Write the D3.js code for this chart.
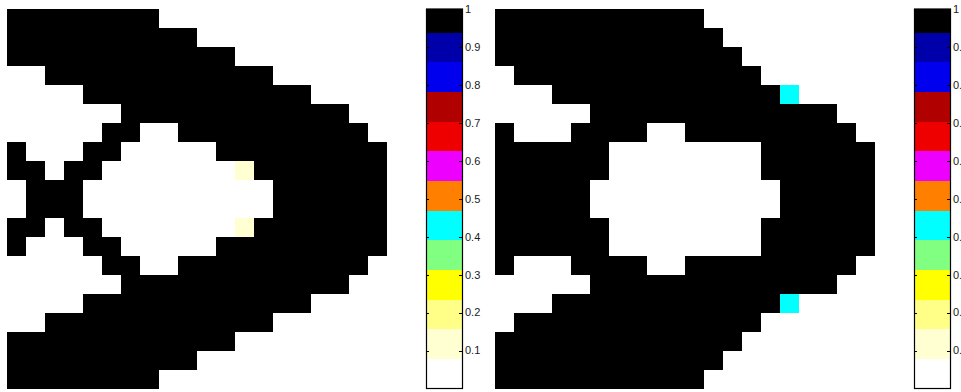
<!DOCTYPE html>
<html>
<head>
<meta charset="utf-8">
<script src="https://cdn.jsdelivr.net/npm/d3@7"></script>
<style>
html,body{margin:0;padding:0;background:#fff;}
svg{display:block;}
</style>
</head>
<body>
<svg id="chart" width="961" height="392"></svg>
<script>
// Density field, left panel (20 x 20)
const leftRows = [
  [1,1,1,1,1,1,1,1,0,0,0,0,0,0,0,0,0,0,0,0],
  [1,1,1,1,1,1,1,1,1,1,0,0,0,0,0,0,0,0,0,0],
  [1,1,1,1,1,1,1,1,1,1,1,1,0,0,0,0,0,0,0,0],
  [0,0,1,1,1,1,1,1,1,1,1,1,1,1,0,0,0,0,0,0],
  [0,0,0,0,1,1,1,1,1,1,1,1,1,1,1,1,0,0,0,0],
  [0,0,0,0,0,0,1,1,1,1,1,1,1,1,1,1,1,1,0,0],
  [0,0,0,0,0,1,1,0,0,1,1,1,1,1,1,1,1,1,1,0],
  [1,0,0,0,1,1,0,0,0,0,0,1,1,1,1,1,1,1,1,1],
  [1,1,0,1,1,0,0,0,0,0,0,0,0.12,1,1,1,1,1,1,1],
  [0,1,1,1,0,0,0,0,0,0,0,0,0,0,1,1,1,1,1,1],
  [0,1,1,1,0,0,0,0,0,0,0,0,0,0,1,1,1,1,1,1],
  [1,1,0,1,1,0,0,0,0,0,0,0,0.12,1,1,1,1,1,1,1],
  [1,0,0,0,1,1,0,0,0,0,0,1,1,1,1,1,1,1,1,1],
  [0,0,0,0,0,1,1,0,0,1,1,1,1,1,1,1,1,1,1,0],
  [0,0,0,0,0,0,1,1,1,1,1,1,1,1,1,1,1,1,0,0],
  [0,0,0,0,1,1,1,1,1,1,1,1,1,1,1,1,0,0,0,0],
  [0,0,1,1,1,1,1,1,1,1,1,1,1,1,0,0,0,0,0,0],
  [1,1,1,1,1,1,1,1,1,1,1,1,0,0,0,0,0,0,0,0],
  [1,1,1,1,1,1,1,1,1,1,0,0,0,0,0,0,0,0,0,0],
  [1,1,1,1,1,1,1,1,0,0,0,0,0,0,0,0,0,0,0,0]
];
// Density field, right panel (20 x 20)
const rightRows = [
  [1,1,1,1,1,1,1,1,1,1,1,0,0,0,0,0,0,0,0,0],
  [1,1,1,1,1,1,1,1,1,1,1,1,0,0,0,0,0,0,0,0],
  [1,1,1,1,1,1,1,1,1,1,1,1,1,0,0,0,0,0,0,0],
  [0,1,1,1,1,1,1,1,1,1,1,1,1,1,0,0,0,0,0,0],
  [0,0,0,1,1,1,1,1,1,1,1,1,1,1,1,0.43,0,0,0,0],
  [0,0,0,0,0,1,1,1,1,1,1,1,1,1,1,1,1,1,0,0],
  [1,0,0,0,1,1,1,1,0,0,1,1,1,1,1,1,1,1,1,0],
  [1,1,1,1,1,1,0,0,0,0,0,0,0,0,1,1,1,1,1,1],
  [1,1,1,1,1,1,0,0,0,0,0,0,0,0,1,1,1,1,1,1],
  [1,1,1,1,1,0,0,0,0,0,0,0,0,0,0,1,1,1,1,1],
  [1,1,1,1,1,0,0,0,0,0,0,0,0,0,0,1,1,1,1,1],
  [1,1,1,1,1,1,0,0,0,0,0,0,0,0,1,1,1,1,1,1],
  [1,1,1,1,1,1,0,0,0,0,0,0,0,0,1,1,1,1,1,1],
  [1,0,0,0,1,1,1,1,0,0,1,1,1,1,1,1,1,1,1,0],
  [0,0,0,0,0,1,1,1,1,1,1,1,1,1,1,1,1,1,0,0],
  [0,0,0,1,1,1,1,1,1,1,1,1,1,1,1,0.43,0,0,0,0],
  [0,1,1,1,1,1,1,1,1,1,1,1,1,1,0,0,0,0,0,0],
  [1,1,1,1,1,1,1,1,1,1,1,1,1,0,0,0,0,0,0,0],
  [1,1,1,1,1,1,1,1,1,1,1,1,0,0,0,0,0,0,0,0],
  [1,1,1,1,1,1,1,1,1,1,1,0,0,0,0,0,0,0,0,0]
];
// Colormap (low -> high), 64-entry map: 12 colors x 5 entries + black x 4
const cmapColors = ["#FFFFFF","#FFFFD2","#FFFF88","#FFFF00","#80FF80","#00FFFF",
                    "#FF8000","#EE00FF","#EE0000","#B00000","#0000EE","#0000AA","#000000"];
const cmapBreaks = [5/64,10/64,15/64,20/64,25/64,30/64,35/64,40/64,45/64,50/64,55/64,60/64];
const tickValues = [0.1,0.2,0.3,0.4,0.5,0.6,0.7,0.8,0.9,1];
const tickLabels = ["0.1","0.2","0.3","0.4","0.5","0.6","0.7","0.8","0.9","1"];

const svg = d3.select("#chart");
const color = d3.scaleThreshold().domain(cmapBreaks).range(cmapColors);
const nCols = 20, nRows = 20;
const idx = d3.range(nCols);

function drawPanel(rows, x0, cbx0) {
  const x = d3.scaleBand().domain(idx).range([x0, x0 + 380]);
  const y = d3.scaleBand().domain(d3.range(nRows)).range([9, 389]);
  const cells = [];
  rows.forEach((r, i) => r.forEach((v, j) => cells.push({i, j, v})));
  const g = svg.append("g");
  g.selectAll("rect").data(cells).join("rect")
    .attr("x", d => x(d.j))
    .attr("y", d => y(d.i))
    .attr("width", x.bandwidth() + 0.3)
    .attr("height", y.bandwidth() + 0.3)
    .attr("fill", d => color(d.v))
    .attr("shape-rendering", "crispEdges");

  // colorbar
  const cy = d3.scaleLinear().domain([0, 1]).range([388.5, 9]);
  const cbW = 36;
  const bounds = [0, ...cmapBreaks, 1];
  const segs = cmapColors.map((c, k) => ({c, lo: bounds[k], hi: bounds[k + 1]}));
  const cb = svg.append("g");
  cb.selectAll("rect.seg").data(segs).join("rect")
    .attr("class", "seg")
    .attr("x", cbx0)
    .attr("width", cbW)
    .attr("y", d => cy(d.hi))
    .attr("height", d => cy(d.lo) - cy(d.hi))
    .attr("fill", d => d.c)
    .attr("shape-rendering", "crispEdges");
  cb.append("rect")
    .attr("x", cbx0 + 0.5).attr("y", cy(1))
    .attr("width", cbW).attr("height", cy(0) - cy(1))
    .attr("fill", "none").attr("stroke", "#000").attr("stroke-width", 1.2);
  const ticks = tickValues.map((v, k) => ({v, label: tickLabels[k]}));
  cb.selectAll("line.tl").data(ticks.filter(t => t.v < 1)).join("line")
    .attr("class", "tl")
    .attr("x1", cbx0).attr("x2", cbx0 + 3)
    .attr("y1", d => Math.round(cy(d.v)) + 0.5).attr("y2", d => Math.round(cy(d.v)) + 0.5)
    .attr("stroke", "#000");
  cb.selectAll("line.tr").data(ticks.filter(t => t.v < 1)).join("line")
    .attr("class", "tr")
    .attr("x1", cbx0 + cbW - 3).attr("x2", cbx0 + cbW + 1)
    .attr("y1", d => Math.round(cy(d.v)) + 0.5).attr("y2", d => Math.round(cy(d.v)) + 0.5)
    .attr("stroke", "#000");
  cb.selectAll("text").data(ticks).join("text")
    .attr("x", cbx0 + cbW + 3)
    .attr("y", d => cy(d.v))
    .attr("dy", "0.35em")
    .attr("font-family", "Liberation Sans, Arial, sans-serif")
    .attr("font-size", 11)
    .attr("fill", "#1a1a1a")
    .text(d => d.label);
}

drawPanel(leftRows, 7, 426);
drawPanel(rightRows, 495, 914);
</script>
</body>
</html>
